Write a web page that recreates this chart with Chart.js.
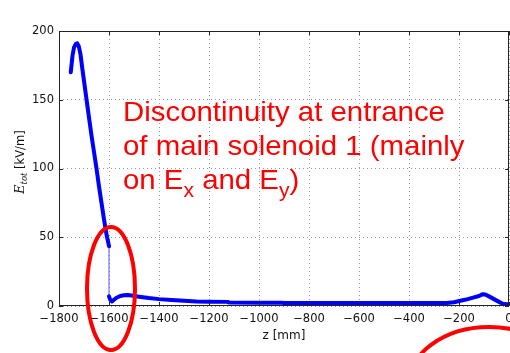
<!DOCTYPE html>
<html>
<head>
<meta charset="utf-8">
<style>
  html, body { margin: 0; padding: 0; background: #ffffff; }
  #wrap { width: 510px; height: 353px; position: relative; }
</style>
<script src="https://cdn.jsdelivr.net/npm/chart.js@4.4.1/dist/chart.umd.min.js"></script>
</head>
<body>
<div id="wrap"><canvas id="c" width="510" height="353"></canvas></div>
<script>
// Field magnitude along the beam axis, z in mm, E_tot in kV/m.
// A null marks the jump at the entrance of main solenoid 1.
const zMm = [
  -1753, -1746, -1740, -1733, -1727, -1721, -1714, -1707, -1698, -1689,
  -1680, -1670, -1660, -1650, -1640, -1630, -1620, -1610, -1600,
  -1600,
  -1600, -1595, -1588, -1580, -1570, -1555, -1540, -1525, -1510, -1480,
  -1440, -1400, -1350, -1300, -1250, -1200, -1125, -1120, -1000, -910,
  -900, -600, -400, -250, -220, -190, -165, -140, -120, -105,
  -95, -80, -60, -40, -25, -10, 0
];
const eTot = [
  170, 182, 188, 190.5, 191, 189, 183, 173, 161, 149,
  137, 124, 112, 100, 87, 75, 63, 52, 43.5,
  null,
  7, 4.5, 3.3, 4.5, 6, 7.3, 7.8, 8, 7.6, 6.8,
  5.8, 5, 4.3, 3.8, 3.3, 3.1, 3, 2.5, 2.4, 2.3,
  2.1, 2.1, 2.1, 2.1, 2.7, 4, 5, 6.3, 7.3, 8.6,
  8.4, 7, 5, 3, 1.6, 1.3, 1.3
];

const xTickValues = [-1800, -1600, -1400, -1200, -1000, -800, -600, -400, -200, 0];
const yTickValues = [0, 50, 100, 150, 200];

const xTitle = 'z [mm]';
const noteLines = [
  [{ t: 'Discontinuity at entrance' }],
  [{ t: 'of main solenoid 1 (mainly' }],
  [{ t: 'on E' }, { t: 'x', sub: true }, { t: ' and E' }, { t: 'y', sub: true }, { t: ')' }]
];

// Split the profile at the gap; the two ends are joined by a thin connector.
const gapIdx = eTot.indexOf(null);
const profile = zMm.map((z, i) => ({ x: z, y: eTot[i] }));
const connector = [
  { x: zMm[gapIdx - 1], y: eTot[gapIdx - 1] },
  { x: zMm[gapIdx + 1], y: eTot[gapIdx + 1] }
];

const FRAME = '#222222';

const decor = {
  id: 'decor',
  afterDraw(chart) {
    const { ctx, chartArea: a, scales } = chart;
    const xs = scales.x, ys = scales.y;
    ctx.save();

    // axes frame
    ctx.strokeStyle = FRAME;
    ctx.lineWidth = 1;
    ctx.strokeRect(a.left + 0.5, a.top + 0.5, a.right - a.left - 1, a.bottom - a.top - 1);

    // inward tick marks on all four sides
    ctx.beginPath();
    xTickValues.forEach(v => {
      const px = Math.round(xs.getPixelForValue(v)) + 0.5;
      ctx.moveTo(px, a.bottom); ctx.lineTo(px, a.bottom - 4);
      ctx.moveTo(px, a.top); ctx.lineTo(px, a.top + 4);
    });
    yTickValues.forEach(v => {
      const py = Math.round(ys.getPixelForValue(v)) + 0.5;
      ctx.moveTo(a.left, py); ctx.lineTo(a.left + 4, py);
      ctx.moveTo(a.right, py); ctx.lineTo(a.right - 4, py);
    });
    ctx.stroke();

    // x axis title
    ctx.fillStyle = '#111';
    ctx.font = '12px "DejaVu Sans", sans-serif';
    ctx.textAlign = 'center';
    ctx.textBaseline = 'middle';
    ctx.fillText(xTitle, (a.left + a.right) / 2, 336);

    // y axis title: E_tot [kV/m], rotated
    ctx.save();
    ctx.translate(20, 162);
    ctx.rotate(-Math.PI / 2);
    ctx.textAlign = 'left';
    ctx.textBaseline = 'alphabetic';
    const fE = 'italic 12.5px "DejaVu Serif", serif';
    const fSub = 'italic 8.5px "DejaVu Serif", serif';
    const fUnit = '11.5px "DejaVu Sans", sans-serif';
    ctx.font = fE; const wE = ctx.measureText('E').width;
    ctx.font = fSub; const wS = ctx.measureText('tot').width;
    ctx.font = fUnit; const wU = ctx.measureText(' [kV/m]').width;
    let cx = -(wE + wS + wU) / 2;
    ctx.font = fE; ctx.fillText('E', cx, 4); cx += wE;
    ctx.font = fSub; ctx.fillText('tot', cx, 6.5); cx += wS;
    ctx.font = fUnit; ctx.fillText(' [kV/m]', cx, 4);
    ctx.restore();

    // red annotation text
    ctx.fillStyle = '#ff0000';
    ctx.textAlign = 'left';
    ctx.textBaseline = 'alphabetic';
    const baselines = [121, 155, 189];
    noteLines.forEach((runs, i) => {
      ctx.save();
      ctx.translate(123, baselines[i]);
      ctx.scale(1.05, 1);
      let x = 0;
      runs.forEach(r => {
        ctx.font = r.sub ? '20px "Liberation Sans", Arial, sans-serif'
                         : '28px "Liberation Sans", Arial, sans-serif';
        ctx.fillText(r.t, x, r.sub ? 8 : 0);
        x += ctx.measureText(r.t).width;
      });
      ctx.restore();
    });

    // red ellipses
    ctx.strokeStyle = '#ff0000';
    ctx.lineWidth = 4;
    ctx.beginPath();
    ctx.ellipse(111, 288.5, 24, 61.5, 0, 0, Math.PI * 2);
    ctx.stroke();
    ctx.beginPath();
    ctx.ellipse(489, 388, 82, 61, 0, 0, Math.PI * 2);
    ctx.stroke();

    ctx.restore();
  }
};

const minus = v => String(v).replace('-', '\u2212');

new Chart(document.getElementById('c'), {
  type: 'line',
  data: {
    datasets: [
      {
        data: profile,
        borderColor: '#0000ff',
        borderWidth: 4,
        pointRadius: 0,
        tension: 0,
        spanGaps: false,
        borderCapStyle: 'round',
        borderJoinStyle: 'round',
        fill: false,
        order: 1
      },
      {
        data: connector,
        borderColor: 'rgba(70,70,255,0.75)',
        borderWidth: 1.2,
        pointRadius: 0,
        tension: 0,
        fill: false,
        order: 2
      }
    ]
  },
  options: {
    responsive: false,
    animation: false,
    devicePixelRatio: 1,
    layout: { padding: { top: 31, right: 1, left: 0, bottom: 0 } },
    plugins: { legend: { display: false }, tooltip: { enabled: false } },
    scales: {
      x: {
        type: 'linear',
        min: -1800,
        max: 0,
        afterBuildTicks: s => { s.ticks = xTickValues.map(v => ({ value: v })); },
        afterFit: s => { s.height = 47; s.paddingLeft = 0; s.paddingRight = 0; },
        ticks: {
          callback: v => minus(v),
          color: '#111',
          font: { family: '"DejaVu Sans", sans-serif', size: 11.5 },
          padding: 6,
          maxRotation: 0,
          autoSkip: false
        },
        grid: { color: '#9a9a9a', lineWidth: 1, drawTicks: false },
        border: { display: false, dash: [1, 3] }
      },
      y: {
        type: 'linear',
        min: 0,
        max: 200,
        afterBuildTicks: s => { s.ticks = yTickValues.map(v => ({ value: v })); },
        afterFit: s => { s.width = 59; s.paddingTop = 0; s.paddingBottom = 0; },
        ticks: {
          color: '#111',
          font: { family: '"DejaVu Sans", sans-serif', size: 11.5 },
          padding: 5
        },
        grid: { color: '#9a9a9a', lineWidth: 1, drawTicks: false },
        border: { display: false, dash: [1, 3] }
      }
    }
  },
  plugins: [decor]
});
</script>
</body>
</html>
